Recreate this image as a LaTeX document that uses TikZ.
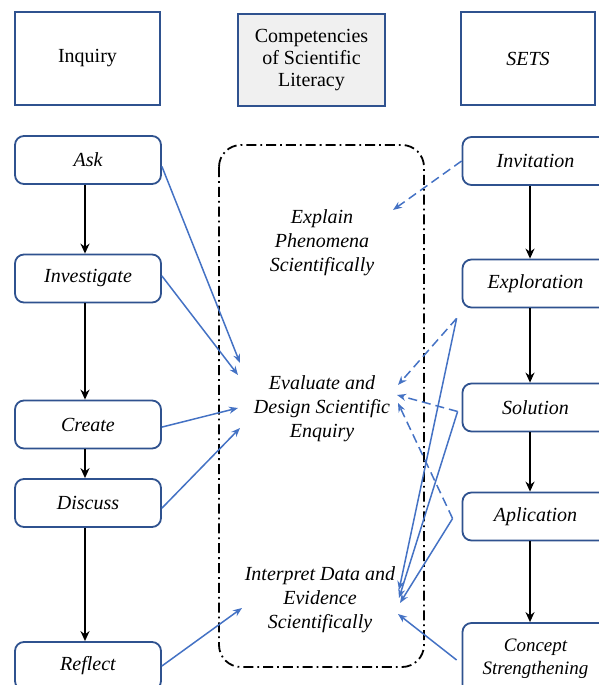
\documentclass[tikz,border=0pt]{standalone}
\usepackage{fontspec}
\setmainfont{Liberation Serif}
\usepackage{xcolor}
\usetikzlibrary{arrows.meta,calc}

\definecolor{bordeazul}{RGB}{47,82,143}
\definecolor{azulflecha}{RGB}{68,114,196}

\tikzset{
  titulo/.style={draw=bordeazul, line width=2pt, minimum height=92pt, align=center, font=\fontsize{20}{22}\selectfont},
  caja/.style={draw=bordeazul, line width=1.8pt, rounded corners=9pt, minimum width=146pt, minimum height=48pt, align=center, font=\fontsize{20}{23}\selectfont\itshape},
  competencia/.style={align=center, font=\fontsize{20}{24}\selectfont\itshape},
  flechanegra/.style={-{Stealth[length=10pt,width=9pt]}, line width=2.3pt},
  enlace/.style={-{Stealth[length=9pt,width=7pt]}, draw=azulflecha, line width=1.5pt},
  enlaceguion/.style={enlace, dash pattern=on 9pt off 5pt}
}

\begin{document}
\begin{tikzpicture}[x=1pt,y=-1pt]
% Parámetros de las columnas
\def\colizq{88}
\def\colder{535.5}

\useasboundingbox (0,0) rectangle (598,685);

% Cajas de encabezado
\node[titulo, minimum width=145pt] (inquiry) at (87.5,58.5) {Inquiry};
\node[titulo, minimum width=147pt, fill=black!6] (comp) at (311.5,60) {Competencies\\of Scientific\\Literacy};
\node[titulo, minimum width=134pt] (sets) at (528,58.5) {\itshape SETS};

% Columna izquierda (Inquiry)
\node[caja] (ask) at (\colizq,160) {Ask};
\node[caja] (investigate) at (\colizq,278.5) {Investigate};
\node[caja] (create) at (\colizq,424.5) {Create};
\node[caja] (discuss) at (\colizq,503) {Discuss};
\node[caja] (reflect) at (\colizq,666) {Reflect};

% Columna derecha (SETS)
\node[caja] (invitation) at (\colder,161) {Invitation};
\node[caja] (exploration) at (\colder,283.5) {Exploration};
\node[caja] (solution) at (\colder,407.5) {Solution};
\node[caja] (aplication) at (\colder,516.5) {Aplication};
\node[caja, minimum height=72pt, font=\fontsize{19}{23}\selectfont\itshape] (concept) at (\colder,659) {Concept\\Strengthening};

% Marco de las competencias
\draw[line width=1.8pt, dash pattern=on 10pt off 4pt on 1.8pt off 4pt, rounded corners=22pt] (219,145) rectangle (424,667);

% Competencias
\node[competencia] (explain) at (322,243) {Explain\\Phenomena\\Scientifically};
\node[competencia] (evaluate) at (322,409) {Evaluate and\\Design Scientific\\Enquiry};
\node[competencia] (interpret) at (320,600) {Interpret Data and\\Evidence\\Scientifically};

% Flechas negras entre pasos
\draw[flechanegra] ([xshift=-3pt]ask.south) -- ([xshift=-3pt]investigate.north);
\draw[flechanegra] ([xshift=-3pt]investigate.south) -- ([xshift=-3pt]create.north);
\draw[flechanegra] ([xshift=-3pt]create.south) -- ([xshift=-3pt]discuss.north);
\draw[flechanegra] ([xshift=-3pt]discuss.south) -- ([xshift=-3pt]reflect.north);
\draw[flechanegra] ([xshift=-5.5pt]invitation.south) -- ([xshift=-5.5pt]exploration.north);
\draw[flechanegra] ([xshift=-5.5pt]exploration.south) -- ([xshift=-5.5pt]solution.north);
\draw[flechanegra] ([xshift=-5.5pt]solution.south) -- ([xshift=-5.5pt]aplication.north);
\draw[flechanegra] ([xshift=-5.5pt]aplication.south) -- ([xshift=-5.5pt]concept.north);

% Puntas de las flechas azules
\coordinate (ex1) at (393,210);
\coordinate (ev1) at (240,363);
\coordinate (ev2) at (238,375);
\coordinate (ev3) at (238,408);
\coordinate (ev4) at (240,428);
\coordinate (ev5) at (398,385);
\coordinate (ev6) at (397,395);
\coordinate (ev7) at (398,403);
\coordinate (in1) at (242,608);
\coordinate (in2) at (399,590);
\coordinate (in3) at (399,598);
\coordinate (in4) at (400,603);
\coordinate (in5) at (398,614);

% Salidas de la columna derecha
\coordinate (sexp) at ($(exploration.south west)+(-5,10)$);
\coordinate (ssol) at ($(solution.west)+(-4,4)$);
\coordinate (sapl) at ($(aplication.west)+(-9,2)$);
\coordinate (scon) at ($(concept.west)+(-5,1)$);

% Flechas azules desde Inquiry
\draw[enlace] (ask.-5) -- (ev1);
\draw[enlace] (investigate.2) -- (ev2);
\draw[enlace] (create.-2) -- (ev3);
\draw[enlace] (discuss.-4) -- (ev4);
\draw[enlace] (reflect.east) -- (in1);

% Flechas azules desde SETS
\draw[enlaceguion] (invitation.west) -- (ex1);
\draw[enlaceguion] (sexp) -- (ev5);
\draw[enlaceguion] (ssol) -- (ev6);
\draw[enlaceguion] (sapl) -- (ev7);
\draw[enlace] (sexp) -- (in2);
\draw[enlace] (ssol) -- (in3);
\draw[enlace] (sapl) -- (in4);
\draw[enlace] (scon) -- (in5);

\end{tikzpicture}
\end{document}
